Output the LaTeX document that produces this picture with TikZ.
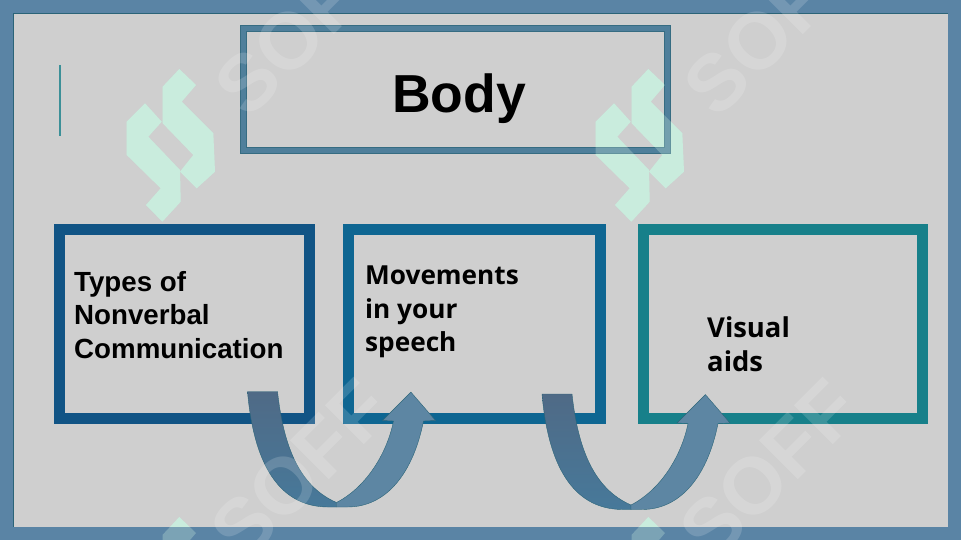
\documentclass[tikz,border=0pt]{standalone}
\usepackage{fontspec}
\setmainfont{Liberation Sans}
\newfontfamily\slidefont{Open Sans}
\usetikzlibrary{positioning}
\definecolor{slidegray}{HTML}{CFCFCF}
\definecolor{framecol}{HTML}{5A84A5}
\definecolor{titlecol}{HTML}{4F7F9B}
\definecolor{titleedge}{HTML}{2B6478}
\definecolor{typescol}{HTML}{115485}
\definecolor{movecol}{HTML}{0E6692}
\definecolor{visualcol}{HTML}{17808A}
\definecolor{mintcol}{HTML}{C9ECDD}
\definecolor{tailtop}{HTML}{4F6A86}
\definecolor{tailend}{HTML}{47799A}
\definecolor{headcol}{HTML}{5D86A3}
\tikzstyle{arrowedge} = [draw=titleedge, line width=0.4pt]
\tikzstyle{boxtext} = [anchor=north west, inner sep=0pt, align=left, font=\fontsize{27.7}{33.5}\selectfont\bfseries]
\tikzstyle{slidetext} = [anchor=north west, inner sep=0pt, align=left, font=\slidefont\fontsize{26.2}{33.5}\selectfont\bfseries]
\tikzstyle{marktext} = [white, opacity=0.16, rotate=45, font=\fontsize{80}{80}\selectfont\bfseries]
\tikzset{
	bigbox/.style = {rectangle, line width=11pt, outer sep=0pt, minimum height=189pt},
	titlebox/.style = {rectangle, draw=titleedge!70!titlecol, line width=0.8pt, double=titlecol, double distance=5.6pt, outer sep=0pt},
}
% logo of the watermark, #1 #2 is the shift, #3 the look
\newcommand\sofflogo[3]{
	\fill [shift={(#1,#2)}, #3] (179.3,69) -- (196,85) -- (181.7,101.7) -- (213.3,133.3) -- (215,171.7) -- (196.7,188.3) -- (180,171.7) -- (193.3,155) -- (162.7,123.3) -- (162.7,86.7) -- cycle;
	\fill [shift={(#1,#2)}, #3] (145,103.3) -- (161.7,121.7) -- (148.3,136.7) -- (180,170) -- (180.7,201.7) -- (162.3,221.7) -- (146,205) -- (160.7,188.3) -- (126.7,155) -- (126.7,121.7) -- cycle;
}
% block arrow, its tail starts at #1
\newcommand\bentarrow[1]{
	\draw [arrowedge, shift={(#1)}, top color=tailtop, bottom color=tailend] (0,0) -- (30,0) .. controls (36,55) and (52,95) .. (89,111) -- (89,115.5) -- (80,115.5) .. controls (30,115) and (6,70) .. (0,0) -- cycle;
	\draw [arrowedge, shift={(#1)}, fill=headcol] (89,111) .. controls (120,95) and (140,60) .. (146,29.5) -- (135,29) -- (163.4,0.6) -- (188,29) -- (176,29.5) .. controls (166,80) and (140,115.5) .. (100,115.5) -- (89,115.5) -- cycle;
}
\begin{document}
\begin{tikzpicture}[x=1pt, y=-1pt]
\clip (0,0) rectangle (961,540);
\fill [slidegray] (0,0) rectangle (961,540);
%----------------------------------------------------------------------------
% Watermark under the boxes
\sofflogo{0}{0}{mintcol}
\sofflogo{469}{0}{mintcol}
\sofflogo{0}{448}{mintcol}
\sofflogo{469}{448}{mintcol}

%----------------------------------------------------------------------------
% Placement of boxes
\node (frame) [rectangle, draw=framecol, line width=13pt, minimum width=948pt, minimum height=526.5pt, outer sep=0pt] at (480.5,269.75) {};
\draw [titleedge, line width=0.8pt] ([xshift=6.5pt, yshift=6.5pt] frame.south west) -- ([xshift=6.5pt, yshift=-6.5pt] frame.north west) -- ([xshift=-6.5pt, yshift=-6.5pt] frame.north east);
\node (titleBox) [titlebox, minimum width=424pt, minimum height=122pt] at (455.5,89.5) {};
\node (typesBox) [bigbox, draw=typescol, minimum width=250pt] at (184.5,324) {};
\node (moveBox) [bigbox, draw=movecol, minimum width=252pt, right of=typesBox, node distance=290pt] {};
\node (visualBox) [bigbox, draw=visualcol, minimum width=279pt, right of=moveBox, node distance=308.5pt] {};

\coordinate (ruleTop) at (60,65);
\coordinate (ruleEnd) at (60,136);
\draw [color=visualcol!80!slidegray, line width=1.4pt] (ruleTop) -- (ruleEnd);

%----------------------------------------------------------------------------
% Arrows
\coordinate (arrowOne) at ([xshift=-62pt, yshift=27pt] typesBox.south east);
\coordinate (arrowTwo) at ([xshift=-58.5pt, yshift=24.5pt] moveBox.south east);
\bentarrow{arrowOne}
\bentarrow{arrowTwo}

%----------------------------------------------------------------------------
% Watermark over the boxes
\sofflogo{0}{0}{mintcol, opacity=0.3}
\sofflogo{469}{0}{mintcol, opacity=0.3}
\sofflogo{0}{448}{mintcol, opacity=0.3}
\sofflogo{469}{448}{mintcol, opacity=0.3}
\node (markOne) [marktext] at (287,43) {SOF};
\node (markTwo) [marktext] at (756,43) {SOF};
\node (markThree) [marktext] at (300,470) {SOFF};
\node (markFour) [marktext] at (769,470) {SOFF};

%----------------------------------------------------------------------------
% Texts
\node (titleText) [font=\fontsize{53.5}{60}\selectfont\bfseries] at (459,98.5) {Body};
\node (typesText) [boxtext] at (74,271) {Types of\\Nonverbal\\Communication};
\node (moveText) [slidetext] at (365,266) {Movements\\in your\\speech};
\node (visualText) [slidetext, font=\slidefont\fontsize{27.4}{34}\selectfont\bfseries] at (707,316) {Visual\\aids};

\end{tikzpicture}
\end{document}
